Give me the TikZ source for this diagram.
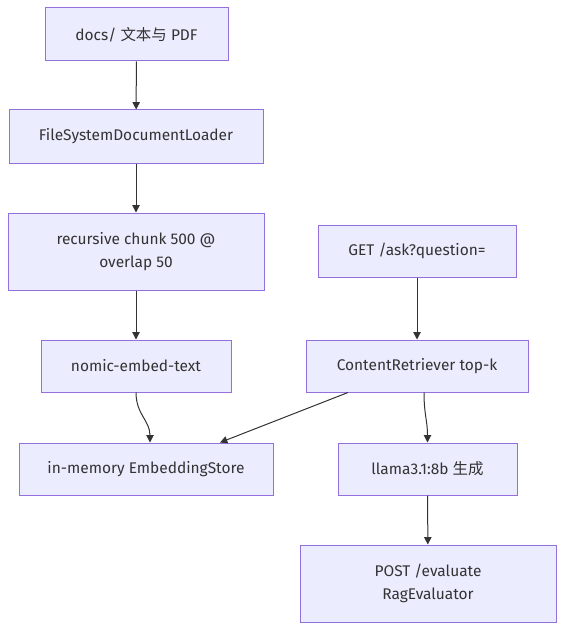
\documentclass[tikz,border=0pt]{standalone}
\usepackage{fontspec}
\setmainfont{Fira Sans}
\newfontfamily\cjk{Noto Sans CJK SC}
\usetikzlibrary{arrows.meta}
\definecolor{boxfill}{HTML}{ECECFF}
\definecolor{boxline}{HTML}{9370DB}
\definecolor{ink}{HTML}{333333}
\tikzset{
  box/.style={draw=boxline, fill=boxfill, line width=0.75pt, text=ink, align=center,
    inner sep=0pt, font=\fontsize{11.6}{17.25}\selectfont},
  link/.style={draw=ink, line width=0.75pt, -{Triangle[length=5.5pt,width=5.5pt]}}
}

\begin{document}
\begin{tikzpicture}[x=0.75pt,y=-0.75pt]
        \useasboundingbox (0,0) rectangle (572,638);

        % left column: indexing
        \node [box, minimum width=137.25pt, minimum height=39.75pt] (docs) at (136.5,34.5) {docs/ {\cjk 文本与} PDF};
        \node [box, minimum width=190.5pt, minimum height=39.75pt] (loader) at (136,136.5) {FileSystemDocumentLoader};
        \node [box, minimum width=192pt, minimum height=57.75pt] (chunk) at (136,251.5) {recursive chunk 500 @\\overlap 50};
        \node [box, minimum width=142.5pt, minimum height=39pt] (embed) at (136,366) {nomic-embed-text};
        \node [box, minimum width=190.5pt, minimum height=39pt] (store) at (146,469) {in-memory EmbeddingStore};

        % right column: asking
        \node [box, minimum width=148.5pt, minimum height=39pt] (ask) at (417,251) {GET /ask?question=};
        \node [box, minimum width=166.5pt, minimum height=39pt] (retriever) at (417,366) {ContentRetriever top-k};
        \node [box, minimum width=134.25pt, minimum height=39pt] (llm) at (427.5,469) {llama3.1:8b {\cjk 生成}};
        \node [box, minimum width=192pt, minimum height=57.75pt] (eval) at (428,583.5) {POST /evaluate\\RagEvaluator};

        \draw [link] (docs) -- (loader);
        \draw [link] (loader) -- (chunk);
        \draw [link] (chunk) -- (embed);
        \draw [link] (embed.south) .. controls +(0,22) and +(0,-22) .. ([xshift=3pt]store.north);

        \draw [link] (ask) -- (retriever);
        \draw [link] ([xshift=-51.75pt]retriever.south) -- ([xshift=55.5pt]store.north);
        \draw [link] ([xshift=5.25pt]retriever.south) .. controls +(0,22) and +(0,-22) .. (llm.north);
        \draw [link] (llm) -- (eval);
\end{tikzpicture}
\end{document}
